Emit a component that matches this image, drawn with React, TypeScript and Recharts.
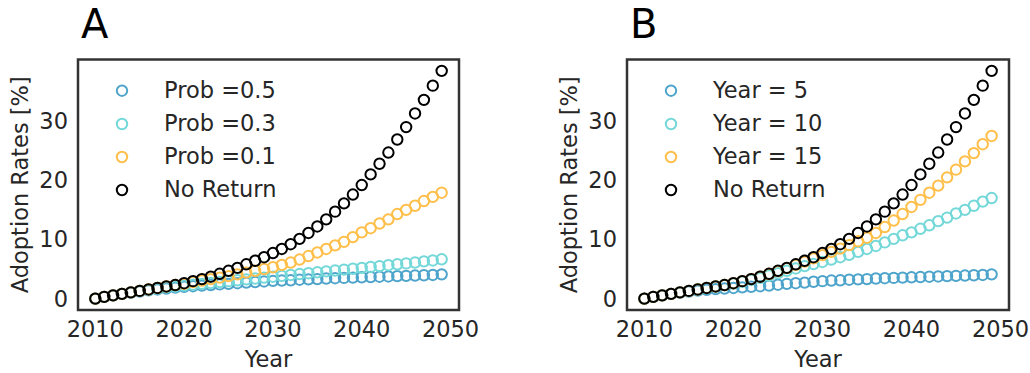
import React from 'react';
import { ScatterChart, Scatter, XAxis, YAxis, ReferenceArea, Customized } from 'recharts';

// Simulation years, 2010 through 2049
const years = Array.from({ length: 40 }, (_, i) => 2010 + i);

// Adoption rates [%] — baseline without returns (shared by both panels)
const noReturn = [
  0.0, 0.3, 0.55, 0.8, 1.05, 1.3, 1.55, 1.8, 2.05, 2.3,
  2.6, 2.95, 3.3, 3.7, 4.2, 4.7, 5.2, 5.8, 6.4, 7.0,
  7.7, 8.4, 9.2, 10.1, 11.1, 12.2, 13.4, 14.7, 16.1, 17.6,
  19.2, 21.0, 22.8, 24.7, 26.9, 29.0, 31.3, 33.6, 36.0, 38.5,
];

// Panel A: return probability scenarios
const prob05 = [
  0.0, 0.3, 0.55, 0.8, 1.0, 1.2, 1.4, 1.55, 1.7, 1.85,
  2.0, 2.1, 2.2, 2.3, 2.4, 2.5, 2.6, 2.7, 2.8, 2.9,
  3.0, 3.05, 3.1, 3.2, 3.25, 3.3, 3.4, 3.45, 3.5, 3.55,
  3.6, 3.65, 3.7, 3.75, 3.8, 3.85, 3.9, 3.95, 4.0, 4.1,
];
const prob03 = [
  0.0, 0.3, 0.55, 0.8, 1.05, 1.3, 1.5, 1.7, 1.9, 2.05,
  2.2, 2.35, 2.5, 2.65, 2.8, 2.95, 3.1, 3.25, 3.4, 3.55,
  3.7, 3.85, 4.0, 4.15, 4.3, 4.45, 4.6, 4.75, 4.9, 5.05,
  5.2, 5.35, 5.5, 5.65, 5.8, 5.95, 6.1, 6.3, 6.45, 6.65,
];
const prob01 = [
  0.0, 0.3, 0.55, 0.8, 1.05, 1.3, 1.55, 1.8, 2.05, 2.3,
  2.5, 2.8, 3.05, 3.3, 3.55, 3.8, 4.1, 4.4, 4.7, 5.0,
  5.3, 5.7, 6.1, 6.6, 7.2, 7.8, 8.4, 9.0, 9.6, 10.4,
  11.2, 11.9, 12.7, 13.4, 14.3, 15.0, 15.7, 16.5, 17.2, 17.9,
];

// Panel B: return-after-N-years scenarios
const year5 = [
  0.0, 0.3, 0.55, 0.8, 1.0, 1.2, 1.35, 1.5, 1.6, 1.7,
  1.8, 1.9, 2.0, 2.1, 2.2, 2.35, 2.5, 2.6, 2.7, 2.85,
  2.95, 3.05, 3.1, 3.2, 3.25, 3.3, 3.4, 3.45, 3.5, 3.55,
  3.6, 3.65, 3.7, 3.75, 3.8, 3.85, 3.9, 3.95, 4.0, 4.1,
];
const year10 = [
  0.0, 0.3, 0.55, 0.8, 1.05, 1.3, 1.55, 1.8, 2.05, 2.3,
  2.55, 2.85, 3.15, 3.5, 3.9, 4.3, 4.7, 5.1, 5.5, 5.85,
  6.2, 6.6, 7.0, 7.4, 7.9, 8.4, 8.9, 9.5, 10.1, 10.7,
  11.2, 11.8, 12.4, 13.1, 13.7, 14.4, 15.0, 15.7, 16.4, 17.0,
];
const year15 = [
  0.0, 0.3, 0.55, 0.8, 1.05, 1.3, 1.55, 1.8, 2.05, 2.3,
  2.6, 2.95, 3.3, 3.7, 4.15, 4.65, 5.15, 5.7, 6.25, 6.8,
  7.35, 7.9, 8.45, 9.05, 9.7, 10.3, 11.1, 12.1, 13.2, 14.3,
  15.5, 16.7, 17.9, 19.1, 20.5, 21.8, 23.2, 24.6, 26.1, 27.5,
];

const xTicks = [2010, 2020, 2030, 2040, 2050];
const yTicks = [0, 10, 20, 30];

const labelsA = ['Prob =0.5', 'Prob =0.3', 'Prob =0.1', 'No Return'];
const labelsB = ['Year = 5', 'Year = 10', 'Year = 15', 'No Return'];

const COLORS = ['#4ea4cb', '#74d8d9', '#ffbf4a', '#000000'];
const FONT = '"DejaVu Sans", Verdana, sans-serif';
const TEXT = '#262626';
const FS = 22.5;

const X_DOMAIN: [number, number] = [2008.05, 2050.95];
const Y_DOMAIN: [number, number] = [-1.925, 40.425];

const R = 5.2;
const SW = 2;

const toPoints = (vals: number[]) => years.map((year, i) => ({ year, v: vals[i] }));

const ring = (color: string) => (p: any) =>
  p.cx == null ? <g /> : (
    <circle cx={p.cx} cy={p.cy} r={R} fill="none" stroke={color} strokeWidth={SW} />
  );

type PanelProps = {
  letter: string;
  series: number[][];
  labels: string[];
  left: number;
  marginLeft: number;
  marginRight: number;
};

function Panel({ letter, series, labels, left, marginLeft, marginRight }: PanelProps) {
  const plotLeft = marginLeft + 60;
  const legendCx = plotLeft + 44;
  const legendTx = plotLeft + 86;
  const rowY = [90.7, 124, 157, 190];
  return (
    <div style={{ position: 'absolute', left, top: 0 }}>
      <ScatterChart
        width={515}
        height={373}
        margin={{ top: 59.5, right: marginRight, bottom: 33, left: marginLeft }}
      >
        <XAxis
          type="number"
          dataKey="year"
          domain={X_DOMAIN}
          ticks={xTicks}
          allowDataOverflow
          tickLine={false}
          axisLine={false}
          tickMargin={5}
          height={30}
          tick={{ fontSize: FS, fill: TEXT, fontFamily: FONT }}
          label={{ value: 'Year', position: 'bottom', offset: 11, fontSize: FS, fill: TEXT, fontFamily: FONT }}
        />
        <YAxis
          type="number"
          dataKey="v"
          domain={Y_DOMAIN}
          ticks={yTicks}
          allowDataOverflow
          tickLine={false}
          axisLine={false}
          tickMargin={4}
          width={60}
          tick={{ fontSize: FS, fill: TEXT, fontFamily: FONT }}
          label={{
            value: 'Adoption Rates [%]',
            angle: -90,
            position: 'insideLeft',
            offset: 2,
            fontSize: FS,
            fill: TEXT,
            fontFamily: FONT,
            style: { textAnchor: 'middle' },
          }}
        />
        <ReferenceArea
          x1={X_DOMAIN[0]}
          x2={X_DOMAIN[1]}
          y1={Y_DOMAIN[0]}
          y2={Y_DOMAIN[1]}
          fill="none"
          fillOpacity={0}
          stroke="#333333"
          strokeWidth={2.5}
          ifOverflow="visible"
        />
        {series.map((vals, i) => (
          <Scatter
            key={labels[i]}
            name={labels[i]}
            data={toPoints(vals)}
            isAnimationActive={false}
            shape={ring(COLORS[i])}
          />
        ))}
        <Customized
          component={() => (
            <g fontFamily={FONT}>
              <text x={plotLeft + 3} y={38} fontSize={40} fill="#000">
                {letter}
              </text>
              {labels.map((lab, i) => (
                <g key={lab}>
                  <circle cx={legendCx} cy={rowY[i]} r={R} fill="none" stroke={COLORS[i]} strokeWidth={SW} />
                  <text x={legendTx} y={rowY[i] + 7} fontSize={FS} fill={TEXT}>
                    {lab}
                  </text>
                </g>
              ))}
            </g>
          )}
        />
      </ScatterChart>
    </div>
  );
}

export default function App() {
  return (
    <div style={{ position: 'absolute', left: 0, top: 0, width: 1030, height: 373, background: '#fff' }}>
      <Panel
        letter="A"
        series={[prob05, prob03, prob01, noReturn]}
        labels={labelsA}
        left={0}
        marginLeft={18}
        marginRight={56}
      />
      <Panel
        letter="B"
        series={[year5, year10, year15, noReturn]}
        labels={labelsB}
        left={515}
        marginLeft={52}
        marginRight={21}
      />
    </div>
  );
}
